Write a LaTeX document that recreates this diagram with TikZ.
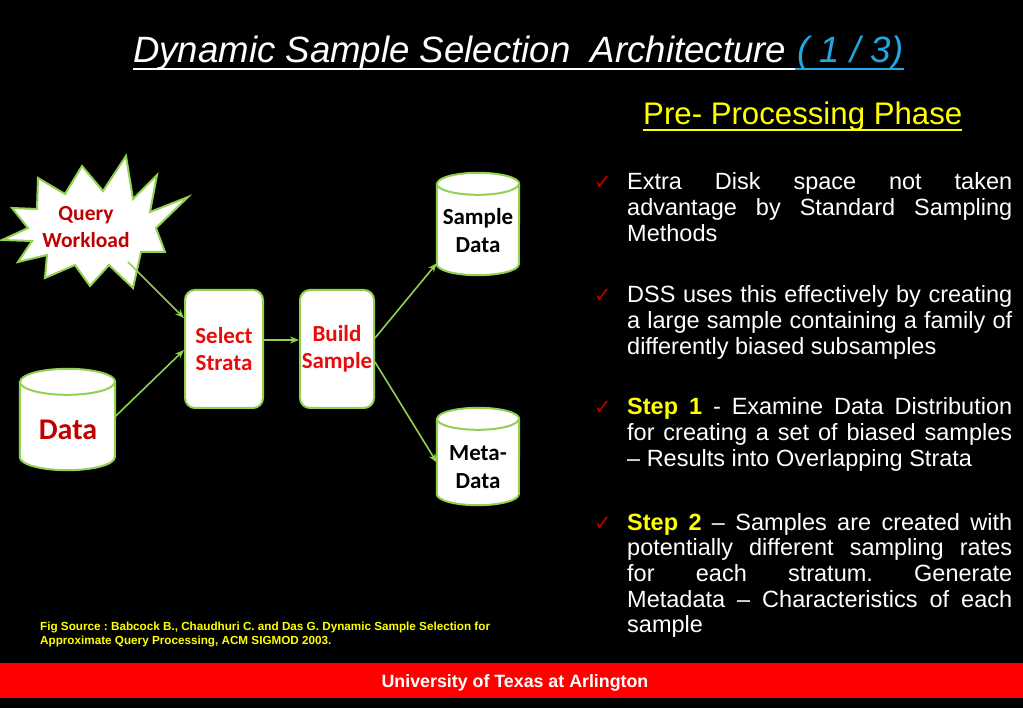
\documentclass[tikz,border=0pt]{standalone}
\usepackage{fontspec}
\setmainfont{Liberation Sans}
\newfontfamily\calfont{Carlito}
\newfontfamily\dvfont{DejaVu Sans}
\usetikzlibrary{calc,arrows.meta}
\definecolor{lgreen}{HTML}{92D050}
\definecolor{dred}{HTML}{C00000}
\definecolor{bred}{HTML}{E80C0C}
\definecolor{tblue}{HTML}{1FA8E0}
\definecolor{tyellow}{HTML}{FFFF00}
\definecolor{bandred}{HTML}{FF0000}
\newcommand\drawcyl[3]{% node, x radius, y radius
  \filldraw[cylline] ($(#1.north west)+(0,#3)$) -- ($(#1.south west)+(0,-#3)$)
    arc[start angle=180,end angle=360,x radius=#2pt,y radius=#3pt]
    -- ($(#1.north east)+(0,#3)$)
    arc[start angle=0,end angle=180,x radius=#2pt,y radius=#3pt] -- cycle;
  \draw[cylline] ($(#1.north west)+(0,#3)$) arc[start angle=180,end angle=360,x radius=#2pt,y radius=#3pt];
}
\frenchspacing
\begin{document}
\begin{tikzpicture}[x=1pt,y=-1pt,
  cylline/.style={draw=lgreen,fill=white,line width=2pt},
  cylbox/.style={draw=none,inner sep=0pt},
  procbox/.style={draw=lgreen,fill=white,line width=2pt,rounded corners=10pt,inner sep=0pt,minimum height=118pt,align=center,font=\calfont\bfseries\fontsize{23}{27}\selectfont,text=bred},
  dlabel/.style={align=center,font=\calfont\bfseries\fontsize{23}{28}\selectfont,text=black,inner sep=0pt},
  conn/.style={draw=lgreen,line width=1.6pt,-{Stealth[length=9pt,width=7pt]}},
  btext/.style={anchor=base west,inner sep=0pt,text=white,font=\fontsize{23.5}{25.7}\selectfont},
  chk/.style={anchor=base,inner sep=0pt,text=dred,font=\dvfont\fontsize{21}{21}\selectfont},
  src/.style={anchor=base west,inner sep=0pt,text=tyellow,font=\bfseries\fontsize{11.7}{13}\selectfont}]
\useasboundingbox (0,0) rectangle (1023,708);
\fill[black] (0,0) rectangle (1023,708);
% bottom band
\fill[bandred] (0,663) rectangle (1023,698);
\node[anchor=base,inner sep=0pt,text=white,font=\bfseries\fontsize{17.8}{20}\selectfont] (uta) at (515,687) {University of Texas at Arlington};
% title
\node[anchor=base west,inner sep=0pt,text=white,font=\itshape\fontsize{36.6}{40}\selectfont] (t1) at (133,63) {Dynamic Sample Selection\hspace{0.28em} Architecture};
\node[anchor=base west,inner sep=0pt,text=tblue,font=\itshape\fontsize{36.6}{40}\selectfont] (t2) at ($(t1.base east)+(11,0)$) {( 1 / 3)};
\draw[white,line width=2pt] ($(t1.base west)+(0,6)$) -- ($(t1.base east)+(9,6)$);
\draw[tblue,line width=2pt] ($(t1.base east)+(9,6)$) -- ($(t2.base east)+(0,6)$);
% subtitle
\node[anchor=base west,inner sep=0pt,text=tyellow,font=\fontsize{31.2}{34}\selectfont] (pp) at (643,125) {Pre- Processing Phase};
\draw[tyellow,line width=2pt] ($(pp.base west)+(0,5)$) -- ($(pp.base east)+(0,5)$);
% bullets
\node[chk] (c1) at (603,190) {✓};
\node[btext] (b1a) at (627,190) {\makebox[385pt][s]{Extra Disk space not taken}};
\node[btext] (b1b) at (627,215.7) {\makebox[385pt][s]{advantage by Standard Sampling}};
\node[btext] (b1c) at (627,241.4) {Methods};
\node[chk] (c2) at (603,303) {✓};
\node[btext] (b2a) at (627,303) {\makebox[385pt][s]{DSS uses this effectively by creating}};
\node[btext] (b2b) at (627,328.7) {\makebox[385pt][s]{a large sample containing a family of}};
\node[btext] (b2c) at (627,354.4) {differently biased subsamples};
\node[chk] (c3) at (603,415) {✓};
\node[btext] (b3a) at (627,415) {\makebox[385pt][s]{{\bfseries\color{tyellow}Step 1} - Examine Data Distribution}};
\node[btext] (b3b) at (627,440.7) {\makebox[385pt][s]{for creating a set of biased samples}};
\node[btext] (b3c) at (627,466.4) {– Results into Overlapping Strata};
\node[chk] (c4) at (603,530) {✓};
\node[btext] (b4a) at (627,530) {\makebox[385pt][s]{{\bfseries\color{tyellow}Step 2} – Samples are created with}};
\node[btext] (b4b) at (627,555.7) {\makebox[385pt][s]{potentially different sampling rates}};
\node[btext] (b4c) at (627,581.4) {\makebox[385pt][s]{for each stratum. Generate}};
\node[btext] (b4d) at (627,607.1) {\makebox[385pt][s]{Metadata – Characteristics of each}};
\node[btext] (b4e) at (627,632.8) {sample};
% fig source
\node[src] (fs1) at (40,630) {Fig Source : Babcock B., Chaudhuri C. and Das G. Dynamic Sample Selection for};
\node[src] (fs2) at (40,644) {Approximate Query Processing, ACM SIGMOD 2003.};
% starburst
\filldraw[draw=lgreen,fill=white,line width=2pt,line join=miter]
 (38,178) -- (65,194) -- (82,166) -- (103,191) -- (126,156) -- (133,199) -- (157,175)
 -- (150,212) -- (188,197) -- (156,228) -- (165,252) -- (141,252) -- (133,288)
 -- (109,265) -- (90,286) -- (75,265) -- (45,278) -- (47,255) -- (18,262)
 -- (32,241) -- (2,240) -- (28,228) -- (12,208) -- (37,209) -- cycle;
\node[align=center,inner sep=0pt,text=dred,font=\calfont\bfseries\fontsize{21.5}{27}\selectfont] (qw) at (86,227) {Query\\Workload};
\coordinate (qwout) at (128,262);
% process boxes
\node[procbox,minimum width=78pt] (ss) at (224,349) {Select\\Strata};
\node[procbox,minimum width=74pt] (bs) at (337,349) {Build\\Sample};
% cylinders
\node[cylbox,minimum width=82pt,minimum height=102pt] (sd) at (478,224) {};
\drawcyl{sd}{41}{11}
\node[dlabel] (sdt) at (478,231) {Sample\\Data};
\node[cylbox,minimum width=82pt,minimum height=97pt] (md) at (478,456.5) {};
\drawcyl{md}{41}{11}
\node[dlabel] (mdt) at (478,467) {Meta-\\Data};
\node[cylbox,minimum width=95pt,minimum height=101pt] (dt) at (67.5,419.5) {};
\drawcyl{dt}{47.5}{13}
\node[inner sep=0pt,text=dred,font=\calfont\bfseries\fontsize{30}{32}\selectfont] (dtt) at (68,430) {Data};
% connectors
\draw[conn] (qwout) -- ($(ss.west)+(0,-31)$);
\draw[conn] ($(dt.east)+(-1,-2)$) -- ($(ss.west)+(0,1)$);
\draw[conn] ($(ss.east)+(0,-9)$) -- ($(bs.west)+(0,-9)$);
\draw[conn] ($(bs.east)+(0,-11)$) -- ($(sd.south west)+(0,-12)$);
\draw[conn] ($(bs.east)+(0,13)$) -- ($(md.west)+(0,6)$);
\end{tikzpicture}
\end{document}
